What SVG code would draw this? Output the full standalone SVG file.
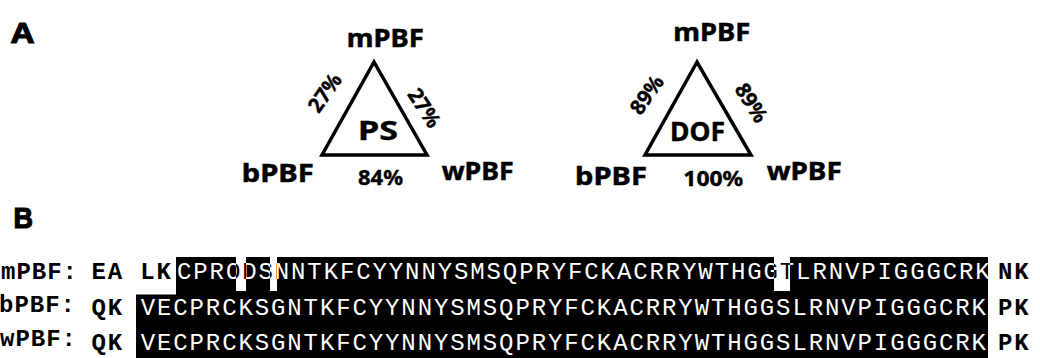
<svg xmlns="http://www.w3.org/2000/svg" width="1040" height="358" viewBox="0 0 1040 358">
<defs>
<style>
.panel{font-family:"Liberation Sans",Arial,sans-serif;font-weight:bold;font-size:29px;fill:#000;stroke:#000;stroke-width:1.2px}
.lbl{font-family:"Noto Sans",sans-serif;font-weight:bold;font-size:25px;fill:#000;stroke:#000;stroke-width:0.5px}
.mid{font-family:"Noto Sans",sans-serif;font-weight:bold;font-size:27px;fill:#000;stroke:#000;stroke-width:0.4px}
.pct{font-family:"Noto Sans",sans-serif;font-weight:bold;font-size:21px;fill:#000;stroke:#000;stroke-width:0.4px}
.tri{fill:#fff;stroke:#000;stroke-width:3.5px;stroke-linejoin:miter}
.seq{font-family:"Liberation Mono","Courier New",monospace;font-size:24px;letter-spacing:1.89px}
.out{font-weight:bold;fill:#000}
.in{fill:#fff}
.name{font-family:"Liberation Mono","Courier New",monospace;font-size:24px;font-weight:bold;letter-spacing:1px;fill:#000}
</style>
<clipPath id="notchClip">
<rect x="236" y="257" width="10" height="34"/>
<rect x="270" y="257" width="7" height="34"/>
<rect x="774" y="257" width="16" height="34"/>
</clipPath>
</defs>

<g id="panel-labels">
<text class="panel" x="10.5" y="42.7" textLength="24" lengthAdjust="spacingAndGlyphs">A</text>
<text class="panel" x="13.5" y="228.3" textLength="19.5" lengthAdjust="spacingAndGlyphs">B</text>
</g>

<g id="connectors">
<polygon id="tri-ps" class="tri" points="374,62 322,155 427,155"/>
<polygon id="tri-dof" class="tri" points="697,62 645,155 751,155"/>
</g>

<g id="node-ps">
<text class="lbl" x="346.7" y="46.5" textLength="77" lengthAdjust="spacingAndGlyphs">mPBF</text>
<text class="lbl" x="241.7" y="181.5" textLength="72" lengthAdjust="spacingAndGlyphs">bPBF</text>
<text class="lbl" x="441.7" y="180" textLength="72" lengthAdjust="spacingAndGlyphs">wPBF</text>
<text class="mid" x="358" y="140" textLength="40" lengthAdjust="spacingAndGlyphs">PS</text>
<text class="pct" x="358" y="185" textLength="45" lengthAdjust="spacingAndGlyphs">84%</text>
<text class="pct" transform="translate(325,93) rotate(-55)" x="0" y="7" text-anchor="middle" textLength="42" lengthAdjust="spacingAndGlyphs">27%</text>
<text class="pct" transform="translate(424,108) rotate(57)" x="0" y="7" text-anchor="middle" textLength="42" lengthAdjust="spacingAndGlyphs">27%</text>
</g>

<g id="node-dof">
<text class="lbl" x="673.3" y="40.5" textLength="77" lengthAdjust="spacingAndGlyphs">mPBF</text>
<text class="lbl" x="575" y="185" textLength="72" lengthAdjust="spacingAndGlyphs">bPBF</text>
<text class="lbl" x="766.7" y="180" textLength="75" lengthAdjust="spacingAndGlyphs">wPBF</text>
<text class="mid" x="670" y="141" textLength="55" lengthAdjust="spacingAndGlyphs">DOF</text>
<text class="pct" x="683.3" y="186" textLength="60" lengthAdjust="spacingAndGlyphs">100%</text>
<text class="pct" transform="translate(647,95) rotate(-55)" x="0" y="7" text-anchor="middle" textLength="42" lengthAdjust="spacingAndGlyphs">89%</text>
<text class="pct" transform="translate(751,103) rotate(58)" x="0" y="7" text-anchor="middle" textLength="42" lengthAdjust="spacingAndGlyphs">89%</text>
</g>

<g id="alignment">
<path d="M176,257 H988 V358 H136 V294.5 H176 Z" fill="#000"/>
<rect x="236" y="257" width="10" height="34" fill="#fff"/>
<rect x="270" y="257" width="7" height="34" fill="#fff"/>
<rect x="774" y="257" width="16" height="34" fill="#fff"/>

<text class="name" x="1" y="279">mPBF:</text>
<text class="name" x="-1" y="312">bPBF:</text>
<text class="name" x="0" y="346">wPBF:</text>

<text class="seq out" x="91.4" y="279">EA LK</text>
<text class="seq out" x="91.4" y="315">QK</text>
<text class="seq out" x="91.4" y="350">QK</text>

<text class="seq in" x="177" y="279">CPRODSNNTKFCYYNNYSMSQPRYFCKACRRYWTHGGTLRNVPIGGGCRK</text>
<text class="seq" x="177" y="279" fill="#000" clip-path="url(#notchClip)">CPRODSNNTKFCYYNNYSMSQPRYFCKACRRYWTHGGTLRNVPIGGGCRK</text>
<text class="seq in" x="140.7" y="315">VECPRCKSGNTKFCYYNNYSMSQPRYFCKACRRYWTHGGSLRNVPIGGGCRK</text>
<text class="seq in" x="140.7" y="350">VECPRCKSGNTKFCYYNNYSMSQPRYFCKACRRYWTHGGSLRNVPIGGGCRK</text>

<text class="seq out" x="998" y="279">NK</text>
<text class="seq out" x="998" y="315">PK</text>
<text class="seq out" x="998" y="350">PK</text>
</g>
</svg>
